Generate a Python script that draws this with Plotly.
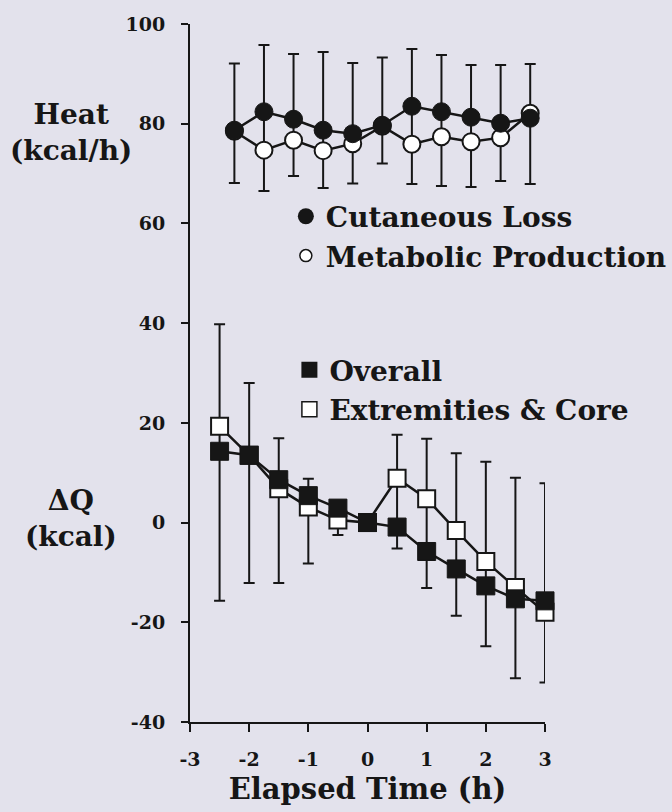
import plotly.graph_objects as go

# ---------------- data ----------------
# Upper panel: heat (kcal/h)
hours_heat = [-2.25, -1.75, -1.25, -0.75, -0.25, 0.25, 0.75, 1.25, 1.75, 2.25, 2.75]
cutaneous_loss = [78.7, 82.4, 80.9, 78.7, 78.0, 79.7, 83.5, 82.4, 81.3, 80.1, 81.1]
cutaneous_sd = [13.4, 13.4, 13.1, 15.7, 14.2, 13.6, 11.5, 11.4, 10.5, 11.7, 10.9]
metabolic_prod = [78.5, 74.7, 76.7, 74.6, 76.0, 79.5, 75.9, 77.4, 76.4, 77.2, 82.1]
metabolic_sd = [10.4, 8.2, 7.2, 7.5, 8.0, 7.5, 8.0, 9.9, 9.1, 8.7, 14.2]

# Lower panel: delta Q (kcal)
hours_q = [-2.5, -2.0, -1.5, -1.0, -0.5, 0.0, 0.5, 1.0, 1.5, 2.0, 2.5, 3.0]
overall = [14.3, 13.5, 8.6, 5.4, 2.9, 0.0, -0.9, -5.8, -9.3, -12.7, -15.3, -15.7]
overall_sd = [30.0, 25.6, 20.7, 13.6, 5.4, 0.0, 4.3, 7.3, 9.4, 12.1, 15.9, 16.4]
extrem_core = [19.3, 13.5, 6.8, 3.1, 0.5, 0.0, 8.9, 4.8, -1.6, -7.8, -13.0, -18.0]
extrem_sd = [20.5, 14.5, 10.1, 5.7, 1.5, 0.0, 8.7, 12.0, 15.5, 20.0, 22.0, 25.9]

x_ticks = [-3, -2, -1, 0, 1, 2, 3]
x_ticktext = ["-3", "-2", "-1", "0", "1", "2", "3"]
y_ticks = [-40, -20, 0, 20, 40, 60, 80, 100]
y_ticktext = ["-40", "-20", "0", "20", "40", "60", "80", "100"]

# ---------------- styles ----------------
INK = "#161616"
BG = "#e3e2ec"
FONT = "DejaVu Serif"

fig = go.Figure()

# error bars (drawn first so markers sit on top)
heat_hi = [s for s in cutaneous_sd]
heat_lo = [max(c - (m - s), 0) for c, m, s in zip(cutaneous_loss, metabolic_prod, metabolic_sd)]
fig.add_trace(go.Scatter(
    x=hours_heat, y=cutaneous_loss, mode="markers",
    marker=dict(size=1, color="rgba(0,0,0,0)"),
    error_y=dict(type="data", symmetric=False, array=heat_hi, arrayminus=heat_lo,
                 color=INK, thickness=2, width=5.5),
    showlegend=False, hoverinfo="skip", cliponaxis=False))

q_hi = [max((e + s) - o, 0) for o, e, s in zip(overall, extrem_core, extrem_sd)]
fig.add_trace(go.Scatter(
    x=hours_q, y=overall, mode="markers",
    marker=dict(size=1, color="rgba(0,0,0,0)"),
    error_y=dict(type="data", symmetric=False, array=q_hi, arrayminus=overall_sd,
                 color=INK, thickness=2, width=5.5),
    showlegend=False, hoverinfo="skip", cliponaxis=False))

# open series
fig.add_trace(go.Scatter(
    x=hours_heat, y=metabolic_prod, mode="lines+markers",
    line=dict(color=INK, width=2.5),
    marker=dict(symbol="circle", size=17, color="white", line=dict(color=INK, width=2)),
    showlegend=False, cliponaxis=False, name="Metabolic Production"))
fig.add_trace(go.Scatter(
    x=hours_q, y=extrem_core, mode="lines+markers",
    line=dict(color=INK, width=2.5),
    marker=dict(symbol="square", size=17, color="white", line=dict(color=INK, width=2)),
    showlegend=False, cliponaxis=False, name="Extremities & Core"))

# filled series
fig.add_trace(go.Scatter(
    x=hours_heat, y=cutaneous_loss, mode="lines+markers",
    line=dict(color=INK, width=2.5),
    marker=dict(symbol="circle", size=18, color=INK, line=dict(color=INK, width=1)),
    showlegend=False, cliponaxis=False, name="Cutaneous Loss"))
fig.add_trace(go.Scatter(
    x=hours_q, y=overall, mode="lines+markers",
    line=dict(color=INK, width=2.5),
    marker=dict(symbol="square", size=18, color=INK, line=dict(color=INK, width=1)),
    showlegend=False, cliponaxis=False, name="Overall"))

# legend entries
fig.add_trace(go.Scatter(x=[None], y=[None], mode="markers", name="Cutaneous Loss",
                         marker=dict(symbol="circle", size=16, color=INK),
                         legend="legend", legendgroup="a"))
fig.add_trace(go.Scatter(x=[None], y=[None], mode="markers", name="Metabolic Production",
                         marker=dict(symbol="circle", size=12, color="white",
                                     line=dict(color=INK, width=1.5)),
                         legend="legend", legendgroup="b"))
fig.add_trace(go.Scatter(x=[None], y=[None], mode="markers", name="Overall",
                         marker=dict(symbol="square", size=16, color=INK),
                         legend="legend2", legendgroup="c"))
fig.add_trace(go.Scatter(x=[None], y=[None], mode="markers", name="Extremities & Core",
                         marker=dict(symbol="square", size=15, color="white",
                                     line=dict(color=INK, width=1.5)),
                         legend="legend2", legendgroup="d"))

legend_common = dict(font=dict(family=FONT, size=28, color=INK, weight="bold"),
                     bgcolor="rgba(0,0,0,0)", borderwidth=0, itemsizing="trace",
                     xanchor="left", yanchor="top", xref="paper", yref="paper",
                     tracegroupgap=0)

fig.update_layout(
    width=672, height=812,
    margin=dict(l=190, r=127, t=24, b=90, autoexpand=False),
    paper_bgcolor=BG, plot_bgcolor=BG,
    font=dict(family=FONT, color=INK, weight="bold"),
    legend=dict(x=0.27, y=0.76, **legend_common),
    legend2=dict(x=0.28, y=0.54, **legend_common),
    xaxis=dict(range=[-3, 3], tickvals=x_ticks, ticktext=x_ticktext,
               showgrid=False, zeroline=False, showline=True, linecolor=INK, linewidth=2,
               ticks="outside", ticklen=8, tickwidth=2, tickcolor=INK,
               tickfont=dict(family=FONT, size=19, color=INK, weight="bold"),
               ticklabelstandoff=11,
               title=dict(text="Elapsed Time (h)",
                          font=dict(family=FONT, size=29, color=INK, weight="bold"),
                          standoff=10)),
    yaxis=dict(range=[-40, 100], tickvals=y_ticks, ticktext=y_ticktext,
               showgrid=False, zeroline=False, showline=True, linecolor=INK, linewidth=2,
               ticks="outside", ticklen=7, tickwidth=2, tickcolor=INK,
               tickfont=dict(family=FONT, size=19, color=INK, weight="bold"),
               ticklabelstandoff=12),
)

fig.add_annotation(text="Heat<br>(kcal/h)", x=-0.335, y=0.845, xref="paper", yref="paper",
                   showarrow=False, xanchor="center", yanchor="middle",
                   font=dict(family=FONT, size=28, color=INK, weight="bold"))
fig.add_annotation(text="ΔQ<br>(kcal)", x=-0.335, y=0.292, xref="paper", yref="paper",
                   showarrow=False, xanchor="center", yanchor="middle",
                   font=dict(family=FONT, size=28, color=INK, weight="bold"))

fig.write_html("out.html")
